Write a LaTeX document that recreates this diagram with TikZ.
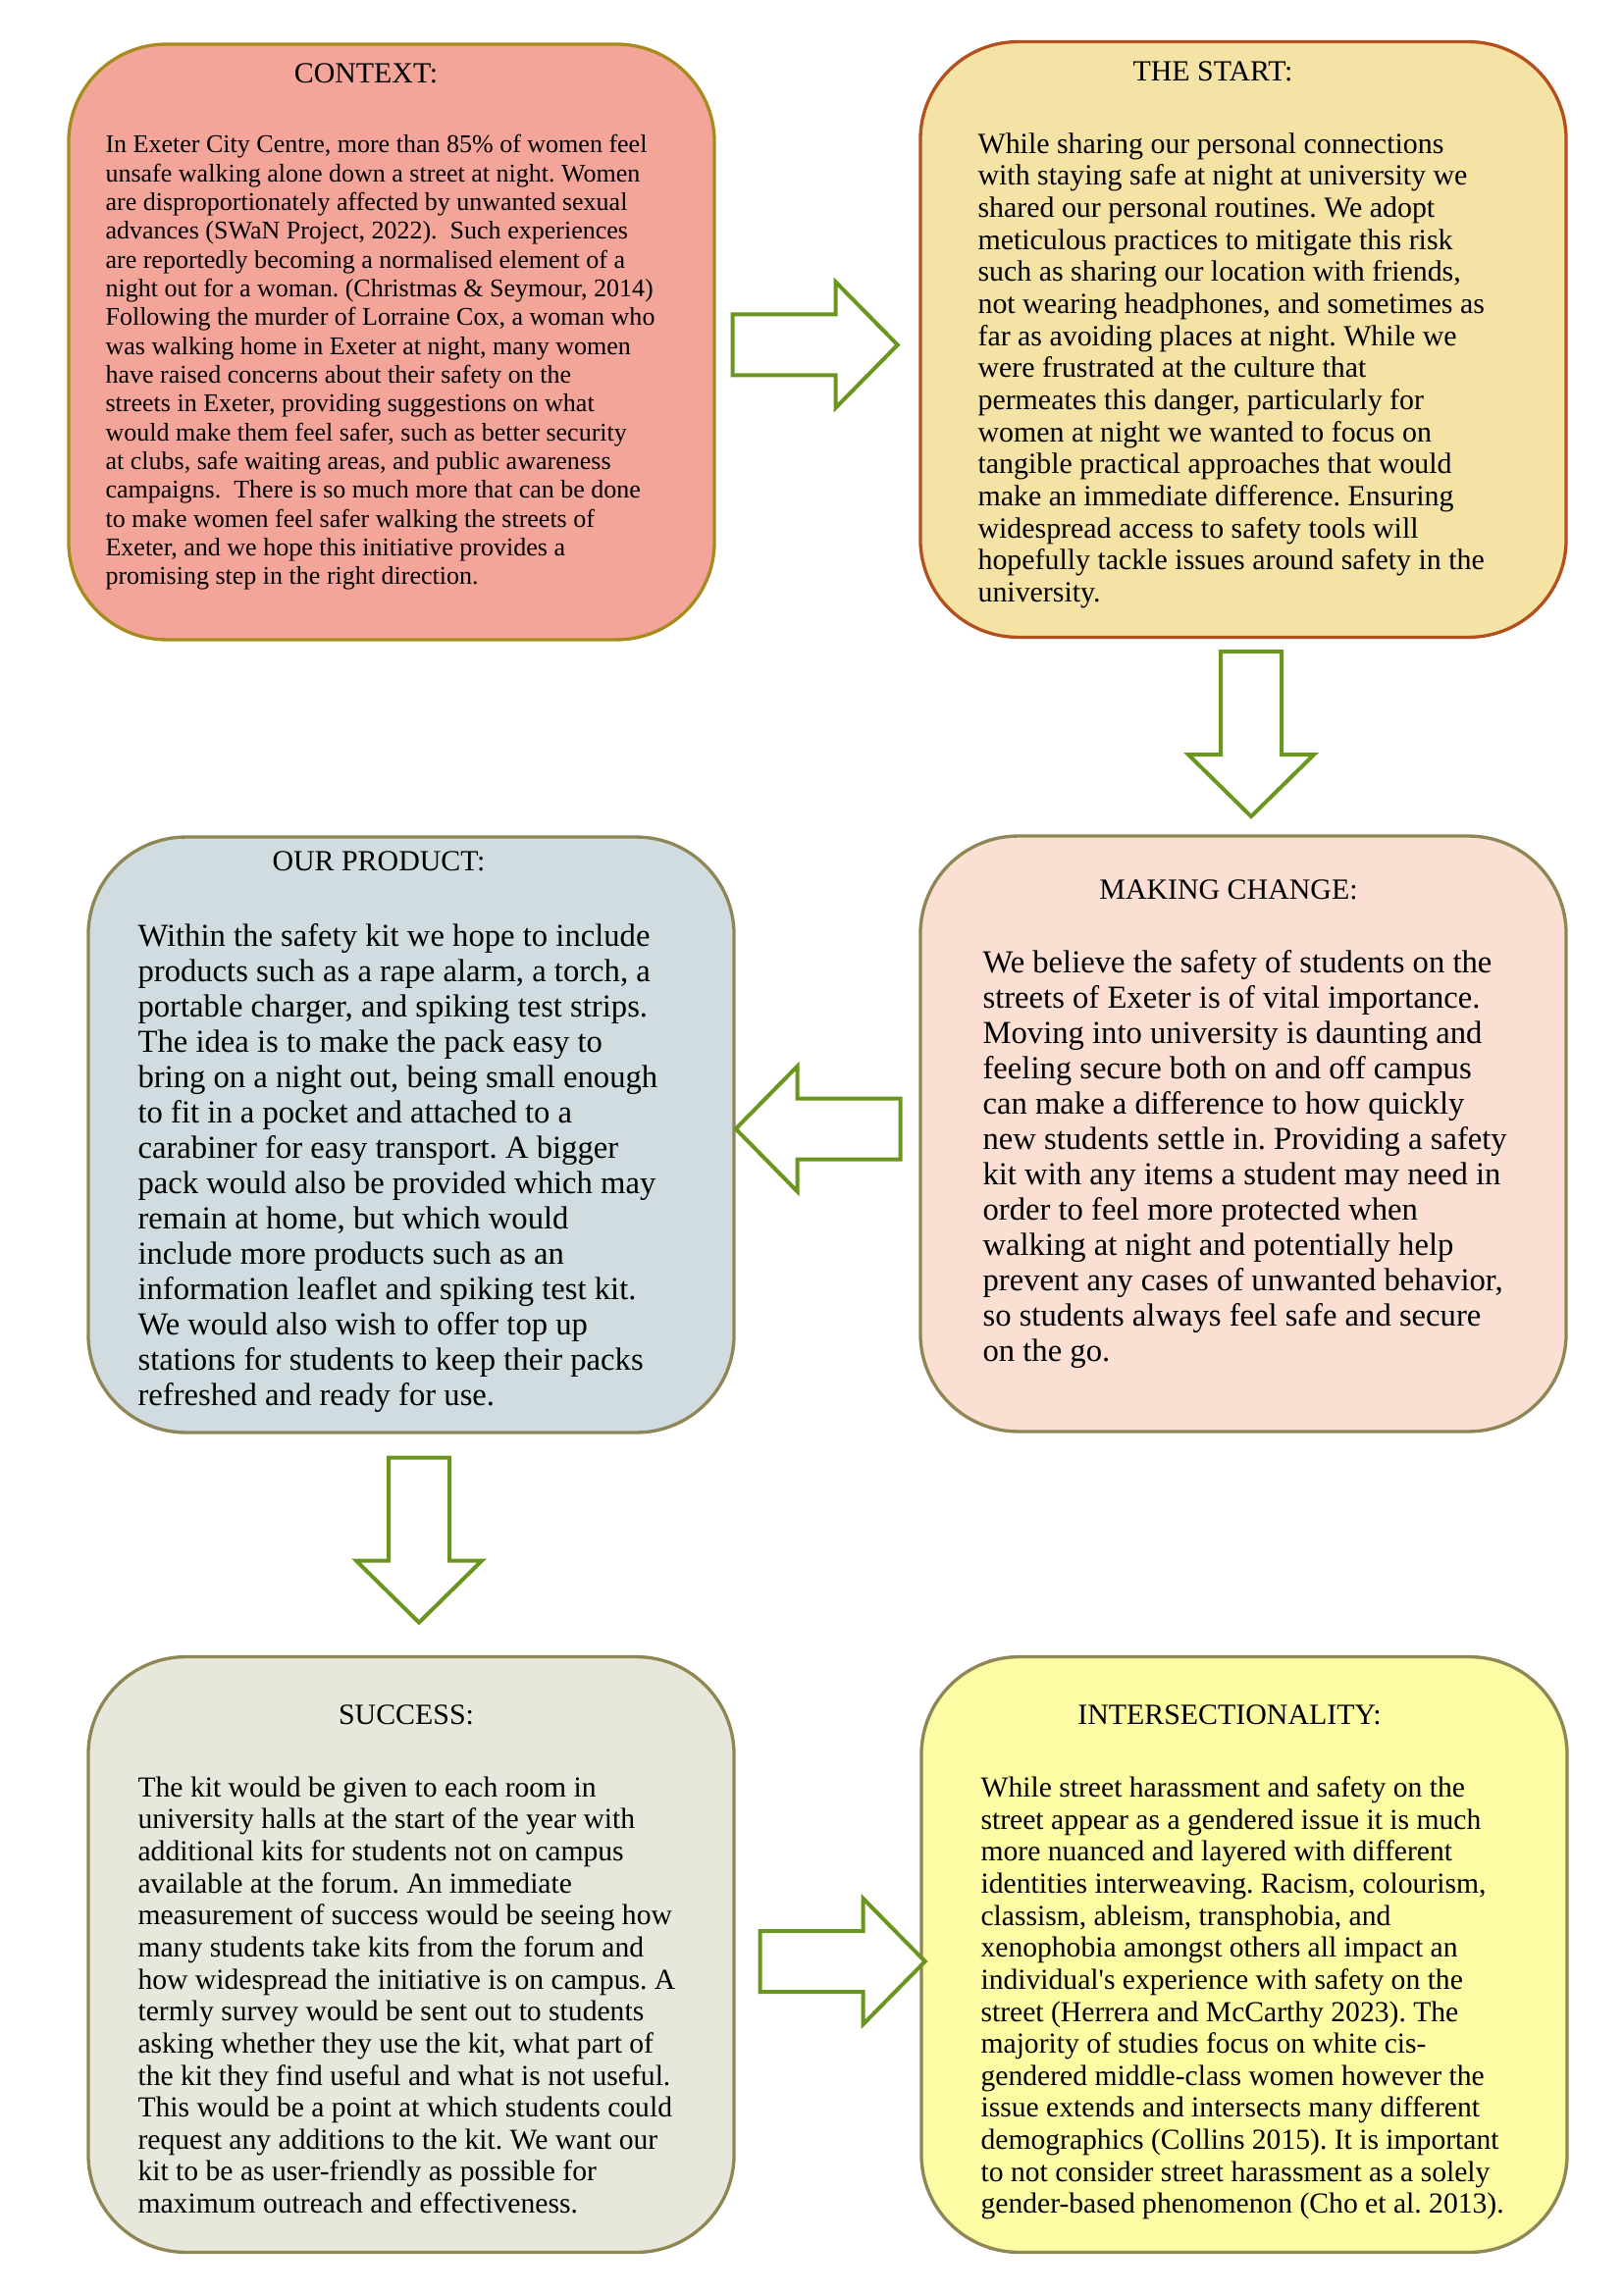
\documentclass[tikz,border=0pt]{standalone}
\usepackage{fontspec}
\setmainfont{Liberation Serif}
\newfontfamily\straightq{Liberation Serif}
\usetikzlibrary{calc}
\frenchspacing
\definecolor{ctxpink}{HTML}{F3A599}
\definecolor{ctxgold}{HTML}{A88B1D}
\definecolor{startsand}{HTML}{F5E2A5}
\definecolor{startrust}{HTML}{B4501C}
\definecolor{prodgrey}{HTML}{D0DCE0}
\definecolor{changepeach}{HTML}{FADFD2}
\definecolor{succstone}{HTML}{E8E7DB}
\definecolor{interlemon}{HTML}{FDFBA3}
\definecolor{olivedrab}{HTML}{8F8656}
\definecolor{leafgreen}{HTML}{6A961F}
\tikzset{
  % rutor
  card/.style={rectangle,rounded corners=36pt,line width=1.2pt,inner sep=0pt,
               minimum width=237.8pt,minimum height=219.3pt},
  ttl/.style={inner sep=0pt,font=\fontsize{10.8}{12}\selectfont},
  body/.style={anchor=north west,inner sep=0pt,align=left},
  % pilar
  fatline/.style={draw=leafgreen,fill=white,line width=1.45pt},
  pics/fatarrow/.style={code={
    \draw[fatline] (0,-31) -- (105,-31) -- (105,-64) -- (168,0) -- (105,64)
      -- (105,31) -- (0,31) -- cycle;
  }},
}
\begin{document}
\begin{tikzpicture}[x=0.36135pt,y=-0.36135pt]
\useasboundingbox (0,0) rectangle (1654,2339);
  \node[card,fill=ctxpink,draw=ctxgold] (ctx) at (399,348.5) {};
  \node[card,fill=startsand,draw=startrust] (start) at (1267,346) {};
  \node[card,fill=prodgrey,draw=olivedrab] (prod) at (419,1156.5) {};
  \node[card,fill=changepeach,draw=olivedrab] (change) at (1267,1155.5) {};
  \node[card,fill=succstone,draw=olivedrab] (succ) at (419,1992) {};
  \node[card,fill=interlemon,draw=olivedrab] (inter) at (1268,1992) {};
  % rubriker
  \node[ttl] (ctxttl) at (373,75) {CONTEXT:};
  \node[ttl] (startttl) at (1236,73) {THE START:};
  \node[ttl] (prodttl) at (386,878) {OUR PRODUCT:};
  \node[ttl] (changettl) at (1252,907) {MAKING CHANGE:};
  \node[ttl] (succttl) at (414,1748) {SUCCESS:};
  \node[ttl] (interttl) at (1253,1748) {INTERSECTIONALITY:};
  % texter
  \node[body,font=\fontsize{9.4}{10.6}\selectfont] (ctxtxt) at (107,137) {%
    In Exeter City Centre, more than 85\% of women feel\\
    unsafe walking alone down a street at night. Women\\
    are disproportionately affected by unwanted sexual\\
    advances (SWaN Project, 2022).~ Such experiences\\
    are reportedly becoming a normalised element of a\\
    night out for a woman. (Christmas \& Seymour, 2014)\\
    Following the murder of Lorraine Cox, a woman who\\
    was walking home in Exeter at night, many women\\
    have raised concerns about their safety on the\\
    streets in Exeter, providing suggestions on what\\
    would make them feel safer, such as better security\\
    at clubs, safe waiting areas, and public awareness\\
    campaigns.~ There is so much more that can be done\\
    to make women feel safer walking the streets of\\
    Exeter, and we hope this initiative provides a\\
    promising step in the right direction.};
  \node[body,font=\fontsize{10.8}{11.8}\selectfont] (starttxt) at (996,135) {%
    While sharing our personal connections\\
    with staying safe at night at university we\\
    shared our personal routines. We adopt\\
    meticulous practices to mitigate this risk\\
    such as sharing our location with friends,\\
    not wearing headphones, and sometimes as\\
    far as avoiding places at night. While we\\
    were frustrated at the culture that\\
    permeates this danger, particularly for\\
    women at night we wanted to focus on\\
    tangible practical approaches that would\\
    make an immediate difference. Ensuring\\
    widespread access to safety tools will\\
    hopefully tackle issues around safety in the\\
    university.};
  \node[body,font=\fontsize{11.8}{13}\selectfont] (prodtxt) at (140,941) {%
    Within the safety kit we hope to include\\
    products such as a rape alarm, a torch, a\\
    portable charger, and spiking test strips.\\
    The idea is to make the pack easy to\\
    bring on a night out, being small enough\\
    to fit in a pocket and attached to a\\
    carabiner for easy transport. A bigger\\
    pack would also be provided which may\\
    remain at home, but which would\\
    include more products such as an\\
    information leaflet and spiking test kit.\\
    We would also wish to offer top up\\
    stations for students to keep their packs\\
    refreshed and ready for use.};
  \node[body,font=\fontsize{11.8}{13}\selectfont] (changetxt) at (1001,968) {%
    We believe the safety of students on the\\
    streets of Exeter is of vital importance.\\
    Moving into university is daunting and\\
    feeling secure both on and off campus\\
    can make a difference to how quickly\\
    new students settle in. Providing a safety\\
    kit with any items a student may need in\\
    order to feel more protected when\\
    walking at night and potentially help\\
    prevent any cases of unwanted behavior,\\
    so students always feel safe and secure\\
    on the go.};
  \node[body,font=\fontsize{10.7}{11.8}\selectfont] (succtxt) at (140,1810) {%
    The kit would be given to each room in\\
    university halls at the start of the year with\\
    additional kits for students not on campus\\
    available at the forum. An immediate\\
    measurement of success would be seeing how\\
    many students take kits from the forum and\\
    how widespread the initiative is on campus. A\\
    termly survey would be sent out to students\\
    asking whether they use the kit, what part of\\
    the kit they find useful and what is not useful.\\
    This would be a point at which students could\\
    request any additions to the kit. We want our\\
    kit to be as user-friendly as possible for\\
    maximum outreach and effectiveness.};
  \node[body,font=\fontsize{10.7}{11.8}\selectfont] (intertxt) at (999,1810) {%
    While street harassment and safety on the\\
    street appear as a gendered issue it is much\\
    more nuanced and layered with different\\
    identities interweaving. Racism, colourism,\\
    classism, ableism, transphobia, and\\
    xenophobia amongst others all impact an\\
    individual{\straightq'}s experience with safety on the\\
    street (Herrera and McCarthy 2023). The\\
    majority of studies focus on white cis-\\
    gendered middle-class women however the\\
    issue extends and intersects many different\\
    demographics (Collins 2015). It is important\\
    to not consider street harassment as a solely\\
    gender-based phenomenon (Cho et al. 2013).};
  % pilar
  \pic at ($(ctx.east)+(17,3)$) {fatarrow};
  \pic[rotate=-90] at ($(start.south)+(8,13)$) {fatarrow};
  \pic[rotate=180] at ($(prod.east)+(168,-6)$) {fatarrow};
  \pic[rotate=-90] at ($(prod.south)+(8,24)$) {fatarrow};
  \pic at ($(succ.east)+(25,7)$) {fatarrow};
\end{tikzpicture}
\end{document}
